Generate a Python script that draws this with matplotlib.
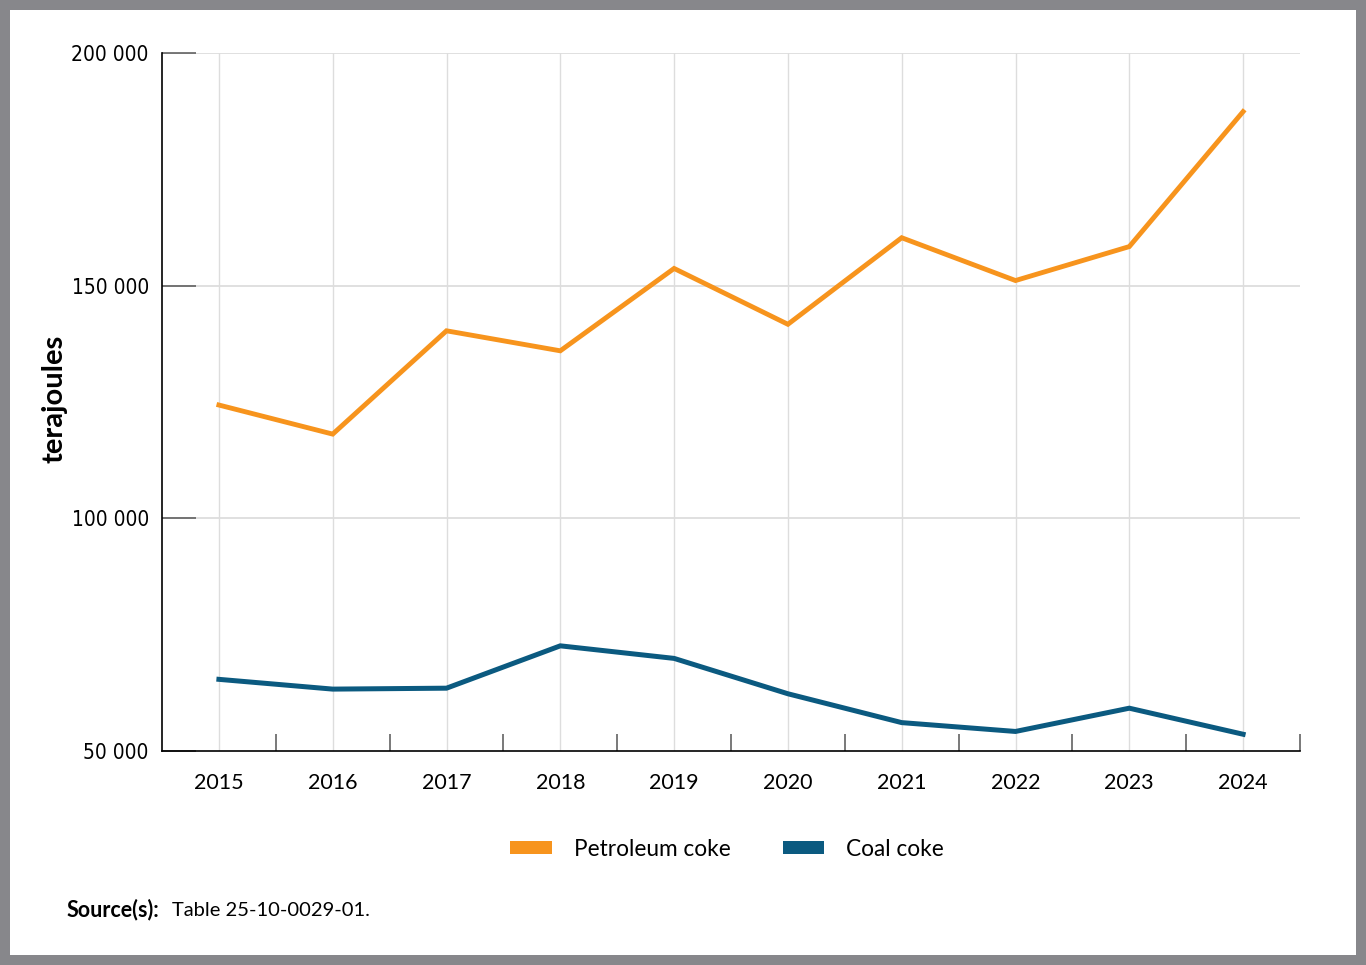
import matplotlib
matplotlib.use('Agg')
import matplotlib.pyplot as plt
from matplotlib.patches import Patch, Rectangle
from matplotlib.ticker import FixedLocator

# Data (terajoules)
years = ['2015', '2016', '2017', '2018', '2019', '2020', '2021', '2022', '2023', '2024']
petroleum_coke = [124350, 118100, 140300, 136000, 153700, 141700, 160300, 151100, 158400, 187400]
coal_coke = [65400, 63300, 63500, 72600, 69900, 62300, 56100, 54200, 59200, 53600]
y_ticks = [50000, 100000, 150000, 200000]
y_tick_labels = ['50 000', '100 000', '150 000', '200 000']

orange = '#f7941d'
blue = '#0b5a80'
grid_col = '#dddddd'

plt.rcParams['font.family'] = ['Lato', 'DejaVu Sans']

fig = plt.figure(figsize=(13.66, 9.65), dpi=100)
fig.patch.set_facecolor('#87878b')
fig.add_artist(Rectangle((10 / 1366, 10 / 965), 1346 / 1366, 945 / 965,
                         transform=fig.transFigure, facecolor='white',
                         edgecolor='none', zorder=0))

ax = fig.add_axes([162 / 1366, 1 - 751 / 965, 1138 / 1366, 698 / 965])
ax.set_facecolor('white')

x = list(range(len(years)))
ax.plot(x, petroleum_coke, color=orange, lw=3.5, solid_joinstyle='miter', zorder=3)
ax.plot(x, coal_coke, color=blue, lw=3.6, solid_joinstyle='miter', zorder=3)

ax.set_xlim(-0.5, len(years) - 0.5)
ax.set_ylim(50000, 200000)

# vertical grid at each year, horizontal grid at y ticks
for xi in x:
    ax.axvline(xi, color=grid_col, lw=1.0, zorder=1)
for yt in y_ticks[1:]:
    ax.axhline(yt, color=grid_col, lw=1.3, zorder=1)

ax.set_xticks(x)
ax.set_xticklabels(years, fontsize=15.5)
ax.tick_params(axis='x', which='major', length=0, pad=16)
ax.xaxis.set_minor_locator(FixedLocator([i + 0.5 for i in x]))
ax.tick_params(axis='x', which='minor', direction='in', length=12.5, width=1.1, color='#555555')

ax.set_yticks(y_ticks)
ax.set_yticklabels(y_tick_labels, fontsize=15, family=['DejaVu Sans'])
for lab in ax.get_yticklabels():
    lab.set_fontstretch('condensed')
ax.tick_params(axis='y', direction='in', length=24.5, width=1.1, color='#555555', pad=9.5)

for side in ['top', 'right']:
    ax.spines[side].set_visible(False)
for side in ['left', 'bottom']:
    ax.spines[side].set_color('black')
    ax.spines[side].set_linewidth(1.2)

ax.set_ylabel('terajoules', fontsize=21, fontweight='bold')
ax.yaxis.set_label_coords(-95 / 1138, (751 - 399) / 698)

handles = [Patch(facecolor=orange, edgecolor='none', label='Petroleum coke'),
           Patch(facecolor=blue, edgecolor='none', label='Coal coke')]
fig.legend(handles=handles, loc='center', ncol=2, frameon=False, fontsize=16.3,
           bbox_to_anchor=(727 / 1366, 1 - 849 / 965), handlelength=1.85,
           handleheight=0.55, handletextpad=0.95, columnspacing=2.3)

fig.text(67 / 1366, 1 - 910 / 965, 'Source(s):', fontsize=15.5, fontweight='bold', va='center')
fig.text(172 / 1366, 1 - 910 / 965, 'Table 25-10-0029-01.', fontsize=14.5, va='center')

fig.savefig('out.png', dpi=100, facecolor=fig.get_facecolor())
